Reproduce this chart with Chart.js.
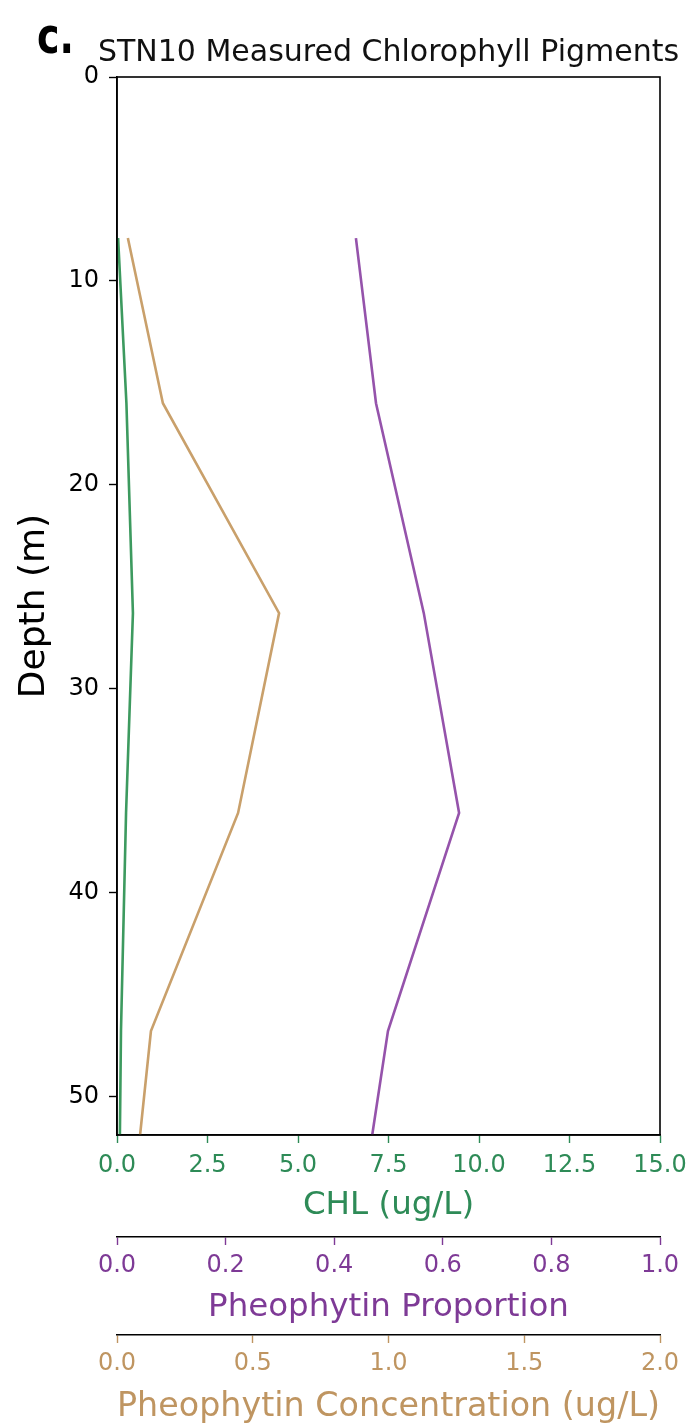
<!DOCTYPE html>
<html>
<head>
<meta charset="utf-8">
<script src="https://cdn.jsdelivr.net/npm/chart.js@4.4.1/dist/chart.umd.min.js"></script>
<style>
  body { margin: 0; background: #fff; }
  #wrap { width: 690px; height: 1428px; }
</style>
</head>
<body>
<div id="wrap"><canvas id="profileChart" width="690" height="1428"></canvas></div>
<script>
// sample depths (m) and measured values at each depth
const depths = [7.9, 16.0, 26.3, 36.1, 46.8, 51.9];
const chlValues = [0.03, 0.26, 0.44, 0.25, 0.11, 0.08];          // CHL (ug/L)
const pheoProportion = [0.44, 0.477, 0.565, 0.63, 0.499, 0.47];   // proportion
const pheoConcentration = [0.04, 0.169, 0.597, 0.446, 0.125, 0.085]; // ug/L

const chlTicks = [0, 2.5, 5, 7.5, 10, 12.5, 15];
const propTicks = [0, 0.2, 0.4, 0.6, 0.8, 1.0];
const concTicks = [0, 0.5, 1.0, 1.5, 2.0];
const depthTicks = [0, 10, 20, 30, 40, 50];

const GREEN_LINE = '#3d9a5f', GREEN_TEXT = '#2e8b57';
const PURPLE_LINE = '#9553ab', PURPLE_TEXT = '#7e3a96';
const TAN_LINE = '#c9a06b', TAN_TEXT = '#bf9561';
const FONT = "'DejaVu Sans', sans-serif";

function toPoints(xs) {
    return xs.map((v, i) => ({ x: v, y: depths[i] }));
}

// frame + panel title, drawn around the chart area
const framePlugin = {
    id: 'frame',
    afterDraw(chart) {
        const { ctx, chartArea: a } = chart;
        ctx.save();
        ctx.strokeStyle = '#000';
        ctx.lineWidth = 1.6;
        ctx.strokeRect(a.left, a.top, a.right - a.left, a.bottom - a.top);

        // panel letter, narrow bold
        ctx.save();
        ctx.fillStyle = '#000';
        ctx.textBaseline = 'alphabetic';
        ctx.textAlign = 'left';
        ctx.font = "bold 50px " + FONT;
        ctx.translate(37, 53);
        ctx.scale(0.76, 1);
        ctx.fillText('c.', 0, 0);
        ctx.restore();

        ctx.fillStyle = '#111';
        ctx.font = "30px " + FONT;
        ctx.textAlign = 'center';
        ctx.textBaseline = 'alphabetic';
        ctx.fillText('STN10 Measured Chlorophyll Pigments', (a.left + a.right) / 2, 61);
        ctx.restore();
    }
};

function xAxis(opts) {
    return {
        type: 'linear',
        position: 'bottom',
        weight: opts.weight,
        min: opts.ticks[0],
        max: opts.ticks[opts.ticks.length - 1],
        afterBuildTicks: (scale) => { scale.ticks = opts.ticks.map(v => ({ value: v })); },
        afterFit: (scale) => {
            scale.height = opts.height;
            scale.paddingLeft = 0;
            scale.paddingRight = 0;
        },
        border: { display: true, color: '#000', width: 1.6 },
        grid: { drawOnChartArea: false, drawTicks: true, tickLength: 8, tickColor: opts.text, tickWidth: 1.4 },
        ticks: {
            color: opts.text,
            font: { family: FONT, size: 24 },
            padding: opts.tickPad,
            autoSkip: false,
            maxRotation: 0,
            callback: (v) => Number(v).toFixed(1)
        },
        title: {
            display: true,
            text: opts.title,
            color: opts.text,
            font: { family: FONT, size: opts.titleSize },
            padding: { top: 0, bottom: opts.titlePad }
        }
    };
}

const ctx = document.getElementById('profileChart').getContext('2d');
new Chart(ctx, {
    type: 'scatter',
    data: {
        datasets: [
            {
                label: 'CHL',
                data: toPoints(chlValues),
                xAxisID: 'x',
                showLine: true,
                borderColor: GREEN_LINE,
                borderWidth: 2.6,
                pointRadius: 0,
                tension: 0
            },
            {
                label: 'Pheophytin Proportion',
                data: toPoints(pheoProportion),
                xAxisID: 'x2',
                showLine: true,
                borderColor: PURPLE_LINE,
                borderWidth: 2.6,
                pointRadius: 0,
                tension: 0
            },
            {
                label: 'Pheophytin Concentration',
                data: toPoints(pheoConcentration),
                xAxisID: 'x3',
                showLine: true,
                borderColor: TAN_LINE,
                borderWidth: 2.6,
                pointRadius: 0,
                tension: 0
            }
        ]
    },
    options: {
        responsive: false,
        animation: false,
        clip: false,
        layout: { padding: { top: 77, right: 30, bottom: 0, left: 0 } },
        plugins: {
            legend: { display: false },
            tooltip: { enabled: false },
            title: { display: false }
        },
        scales: {
            x: xAxis({ weight: 0, ticks: chlTicks, text: GREEN_TEXT, title: 'CHL (ug/L)', height: 102, tickPad: 8, titleSize: 32.5, titlePad: 12 }),
            x2: xAxis({ weight: 1, ticks: propTicks, text: PURPLE_TEXT, title: 'Pheophytin Proportion', height: 98, tickPad: 6, titleSize: 32.5, titlePad: 8 }),
            x3: xAxis({ weight: 2, ticks: concTicks, text: TAN_TEXT, title: 'Pheophytin Concentration (ug/L)', height: 93, tickPad: 6, titleSize: 34, titlePad: 0 }),
            y: {
                type: 'linear',
                position: 'left',
                reverse: true,
                min: 0,
                max: 51.9,
                afterBuildTicks: (scale) => { scale.ticks = depthTicks.map(v => ({ value: v })); },
                afterFit: (scale) => { scale.width = 117; },
                border: { display: true, color: '#000', width: 1.6 },
                grid: { drawOnChartArea: false, drawTicks: true, tickLength: 8, tickColor: '#000', tickWidth: 1.4 },
                ticks: {
                    color: '#000',
                    font: { family: FONT, size: 24 },
                    padding: 10
                },
                title: {
                    display: true,
                    text: 'Depth (m)',
                    color: '#000',
                    font: { family: FONT, size: 36 },
                    padding: { top: 13, bottom: 0 }
                }
            }
        }
    },
    plugins: [framePlugin]
});
</script>
</body>
</html>
